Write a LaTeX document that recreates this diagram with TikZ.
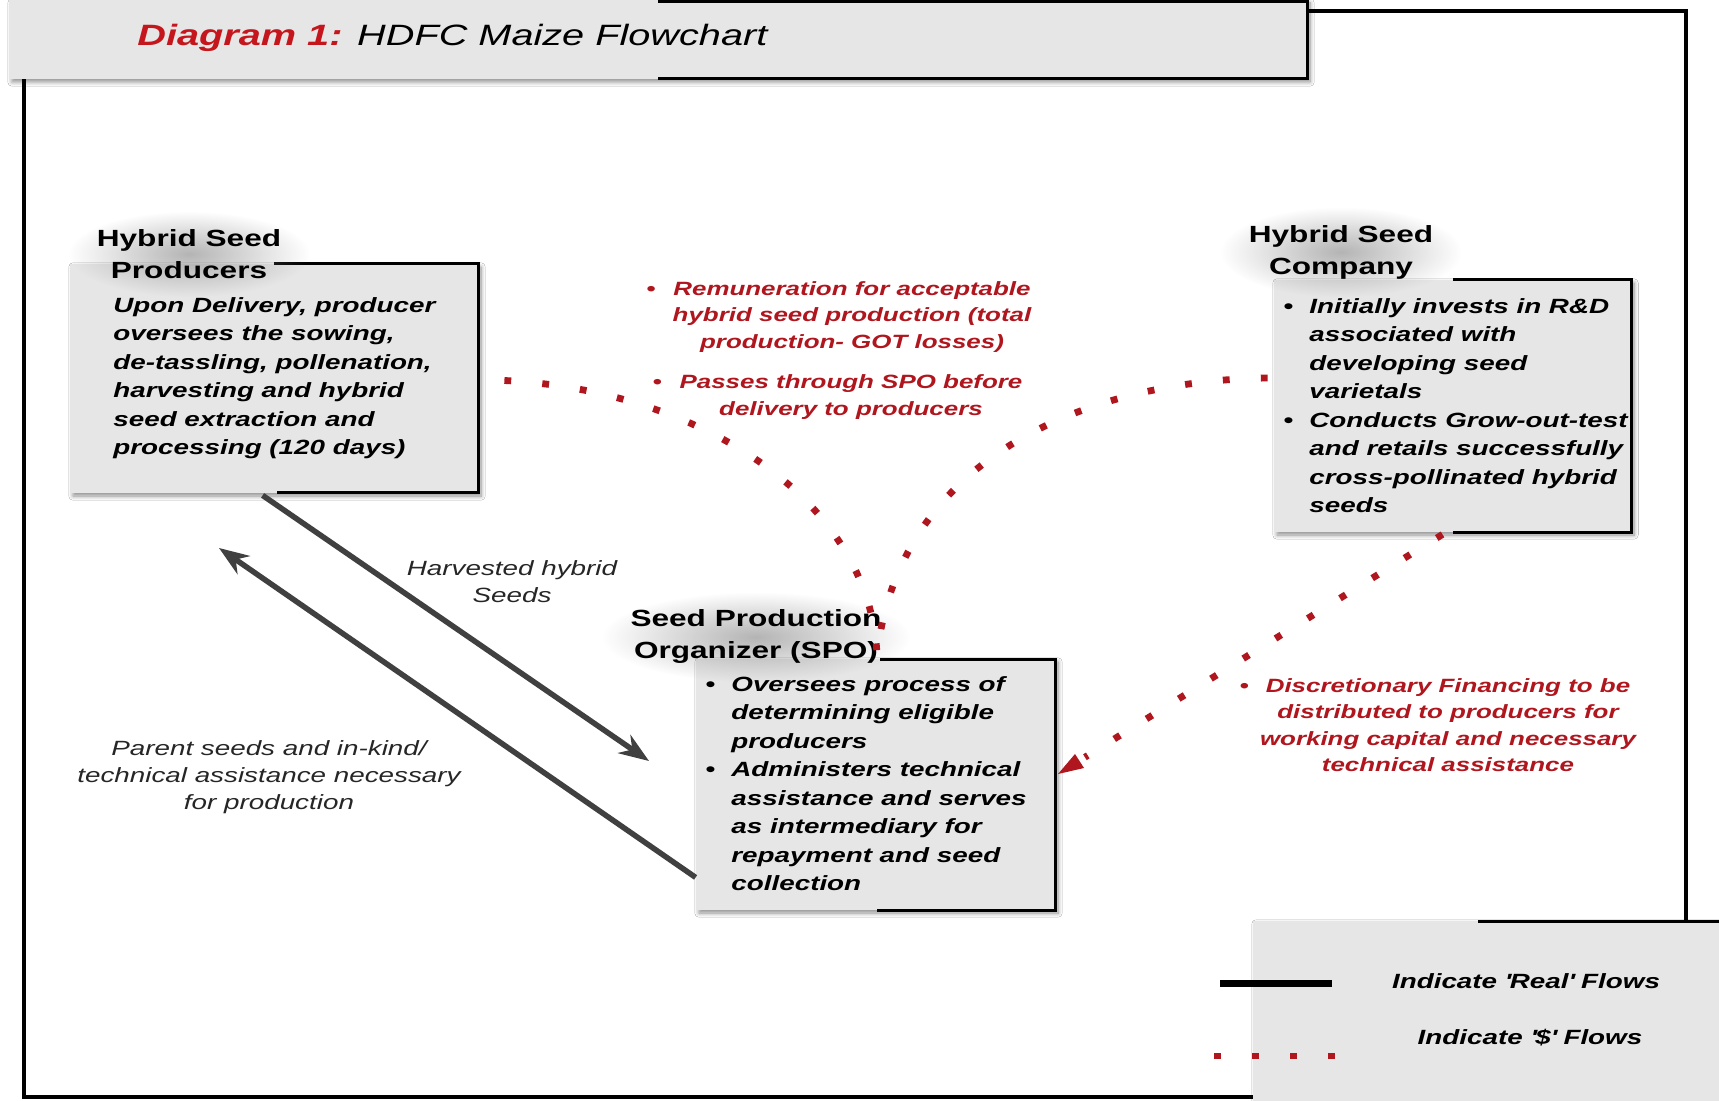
\documentclass[tikz,border=0pt]{standalone}
\usepackage{fontspec}
\setmainfont{Liberation Sans}[FakeStretch=1.35]
\usetikzlibrary{shadows.blur,fit,calc,arrows.meta,fadings}
\definecolor{boxgray}{HTML}{E6E6E6}
\definecolor{flowred}{HTML}{B0161E}
\definecolor{titlered}{HTML}{C4161C}
\definecolor{realgray}{HTML}{404040}
\newcommand\bul{\makebox[13pt][l]{\textbullet}}
\newcommand\ind{\hspace*{13pt}}
\tikzfading[name=glowfade, inner color=transparent!35, outer color=transparent!100]
\begin{document}
\begin{tikzpicture}[x=0.5pt,y=-0.5pt,
  box/.style={fill=boxgray, draw=none, inner sep=0pt,
    blur shadow={shadow xshift=1.5pt, shadow yshift=-1.5pt, shadow opacity=45, shadow blur steps=8}},
  bord/.style={line width=1.5pt, black},
  btitle/.style={font=\fontsize{11.7}{16}\selectfont\bfseries, align=center, inner xsep=14pt, inner ysep=9pt,
    fill=black!45, path fading=glowfade},
  body/.style={font=\fontsize{10.3}{14.25}\selectfont\bfseries\itshape, align=left, inner sep=0pt, anchor=north west},
  redtxt/.style={text=flowred, font=\fontsize{9.6}{13.2}\selectfont\bfseries\itshape, align=center, inner sep=0pt},
  lbl/.style={text=black!85, font=\fontsize{10.3}{13.5}\selectfont\itshape, align=center, inner sep=0pt},
  legtxt/.style={font=\fontsize{10.3}{13}\selectfont\bfseries\itshape, inner sep=0pt},
  real/.style={line width=2.75pt, draw=realgray, -{Stealth[length=15pt,width=11pt]}},
  money/.style={draw=flowred, line width=3.4pt, dash pattern=on 3.4pt off 15.6pt}
]
\useasboundingbox (0,0) rectangle (1719,1101);
\fill[white] (0,0) rectangle (1719,1101);

% outer frame
\draw[line width=2pt] (24,11) rectangle (1686,1097);

% title bar
\node[box, fit={(9,0) (1307,79)}] (titlebox) {};
\draw[bord] (658,2) -- (1307,2) -- (1307,79) -- (658,79);
\node[anchor=west, inner sep=0pt, font=\fontsize{14.7}{18}\selectfont\itshape] (title) at (137,38)
  {\textcolor{titlered}{\bfseries Diagram 1:} HDFC Maize Flowchart};

% Hybrid Seed Producers
\node[box, fit={(70,264) (478,493)}] (prod) {};
\draw[bord] (274,264) -- (478,264) -- (478,493) -- (277,493);
\node[btitle] (prodtitle) at (189,254) {Hybrid Seed\\Producers};
\node[body] (prodtxt) at (113,297) {Upon Delivery, producer\\oversees the sowing,\\de-tassling, pollenation,\\harvesting and hybrid\\seed extraction and\\processing (120 days)};

% Hybrid Seed Company
\node[box, fit={(1274,280) (1631,532)}] (comp) {};
\draw[bord] (1453,280) -- (1631,280) -- (1631,532) -- (1453,532);
\node[btitle] (comptitle) at (1341,252) {Hybrid Seed\\Company};
\node[body] (comptxt) at (1283,298) {\bul Initially invests in R\&D\\\ind associated with\\\ind developing seed\\\ind varietals\\\bul Conducts Grow-out-test\\\ind and retails successfully\\\ind cross-pollinated hybrid\\\ind seeds};

% SPO
\node[box, fit={(696,659) (1055,910)}] (spo) {};
\draw[bord] (880,659) -- (1055,659) -- (1055,910) -- (877,910);
\node[btitle] (spotitle) at (756,637) {Seed Production\\Organizer (SPO)};
\node[body] (spotxt) at (705,676) {\bul Oversees process of\\\ind determining eligible\\\ind producers\\\bul Administers technical\\\ind assistance and serves\\\ind as intermediary for\\\ind repayment and seed\\\ind collection};

% real flows
\coordinate (harvEnd) at (649,761);
\coordinate (parEnd) at (219,548);
\draw[real] ($(prod.south west)+(193,2)$) -- (harvEnd);
\draw[real] ($(spo.south west)+(0,-33)$) -- (parEnd);
\node[lbl] (harvlbl) at (512,582) {Harvested hybrid\\Seeds};
\node[lbl] (parlbl) at (269,777) {Parent seeds and in-kind/\\technical assistance necessary\\for production};

% red labels
\node[redtxt] (remlbl) at (852,317) {\llap{\textbullet\hspace{9pt}}Remuneration for acceptable\\hybrid seed production (total\\production- GOT losses)};
\node[redtxt] (passlbl) at (851,397) {\llap{\textbullet\hspace{9pt}}Passes through SPO before\\delivery to producers};
\node[redtxt] (finlbl) at (1448,725) {\llap{\textbullet\hspace{8.5pt}}Discretionary Financing to be\\distributed to producers for\\working capital and necessary\\technical assistance};

% $ flows
\coordinate (meet) at (877,655);
\draw[money] ($(prod.east)+(26,2)$) .. controls (700,390) and (870,500) .. (meet);
\draw[money] ($(comp.west)+(-6,-28)$) .. controls (1100,380) and (900,450) .. (meet);
\coordinate (finEnd) at (1058,774);
\draw[money] ($(comp.south)+(-10,2)$) -- ($(finEnd)!0.07!($(comp.south)+(-10,2)$)$);
\fill[flowred] (finEnd) -- ++(17,-20) -- ++(9,14) -- cycle;

% legend
\node[box, fit={(1253,921) (1719,1101)}] (legend) {};
\draw[bord] (1478,921) -- (1719,921);
\coordinate (lr1) at (1220,983); \coordinate (lr2) at (1332,983);
\coordinate (lm1) at (1214,1056); \coordinate (lm2) at (1336,1056);
\draw[line width=3.5pt, black] (lr1) -- (lr2);
\draw[money] (lm1) -- (lm2);
\node[legtxt] (legreal) at (1526,981) {Indicate \textquotesingle Real\textquotesingle\ Flows};
\node[legtxt] (legmoney) at (1530,1038) {Indicate \textquotesingle\$\textquotesingle\ Flows};
\end{tikzpicture}
\end{document}
